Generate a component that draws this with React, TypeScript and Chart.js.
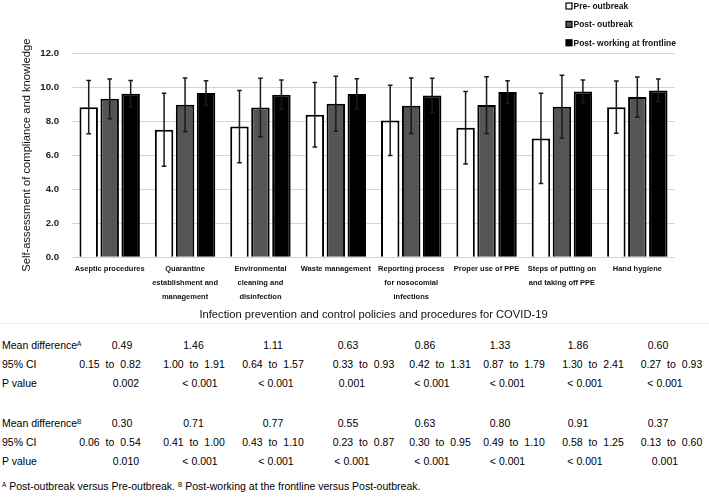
import React, { useEffect, useRef } from "react";
import { Chart, registerables } from "chart.js";

Chart.register(...registerables);

// ---------- data ----------
const categories: string[][] = [
  ["Aseptic procedures"],
  ["Quarantine", "establishment and", "management"],
  ["Environmental", "cleaning and", "disinfection"],
  ["Waste management"],
  ["Reporting process", "for nosocomial", "infections"],
  ["Proper use of PPE"],
  ["Steps of putting on", "and taking off PPE"],
  ["Hand hygiene"],
];
const seriesLabels = ["Pre- outbreak", "Post- outbreak", "Post- working at frontline"];
const preOutbreak = [8.82, 7.49, 7.68, 8.37, 8.04, 7.61, 6.98, 8.82];
const postOutbreak = [9.31, 8.96, 8.8, 9.02, 8.9, 8.94, 8.84, 9.41];
const postFrontline = [9.61, 9.65, 9.55, 9.59, 9.51, 9.71, 9.74, 9.8];
const preErr = [1.57, 2.14, 2.12, 1.89, 2.06, 2.13, 2.65, 1.54];
const postErr = [1.17, 1.57, 1.72, 1.61, 1.63, 1.67, 1.85, 1.18];
const frontErr = [0.78, 0.72, 0.86, 0.9, 1.0, 0.66, 0.67, 0.67];
const yTicks = [0, 2, 4, 6, 8, 10, 12];

const meanDiffA = ["0.49", "1.46", "1.11", "0.63", "0.86", "1.33", "1.86", "0.60"];
const ciA = ["0.15 to 0.82", "1.00 to 1.91", "0.64 to 1.57", "0.33 to 0.93", "0.42 to 1.31", "0.87 to 1.79", "1.30 to 2.41", "0.27 to 0.93"];
const pA = ["0.002", "< 0.001", "< 0.001", "0.001", "< 0.001", "< 0.001", "< 0.001", "< 0.001"];
const meanDiffB = ["0.30", "0.71", "0.77", "0.55", "0.63", "0.80", "0.91", "0.37"];
const ciB = ["0.06 to 0.54", "0.41 to 1.00", "0.43 to 1.10", "0.23 to 0.87", "0.30 to 0.95", "0.49 to 1.10", "0.58 to 1.25", "0.13 to 0.60"];
const pB = ["0.010", "< 0.001", "< 0.001", "< 0.001", "< 0.001", "< 0.001", "< 0.001", "0.001"];

// ---------- layout ----------
const FONT = "'Liberation Sans', Arial, Helvetica, sans-serif";
const meanX = [122, 193.5, 273, 348, 425, 500, 578, 658];
const ciX = [110, 194, 273, 363.5, 440, 514, 593, 671.5];
const pX = [126, 200, 276, 352, 432, 507.5, 585, 665];

const errorBarPlugin = {
  id: "errorBars",
  afterDatasetsDraw(chart: any) {
    const errs = [preErr, postErr, frontErr];
    const ctx = chart.ctx;
    const ys = chart.scales.y;
    ctx.save();
    ctx.strokeStyle = "#1a1a1a";
    ctx.lineWidth = 1.5;
    chart.data.datasets.forEach((ds: any, i: number) => {
      const meta = chart.getDatasetMeta(i);
      meta.data.forEach((bar: any, j: number) => {
        const v = ds.data[j];
        const e = errs[i][j];
        const x = bar.x;
        const yt = ys.getPixelForValue(v + e);
        const yb = ys.getPixelForValue(v - e);
        ctx.beginPath();
        ctx.moveTo(x, yt);
        ctx.lineTo(x, yb);
        ctx.moveTo(x - 2.3, yt);
        ctx.lineTo(x + 2.3, yt);
        ctx.moveTo(x - 2.3, yb);
        ctx.lineTo(x + 2.3, yb);
        ctx.stroke();
      });
    });
    ctx.restore();
  },
};

const legendPlugin = {
  id: "customLegend",
  afterDraw(chart: any) {
    const ctx = chart.ctx;
    ctx.save();
    ctx.font = `bold 8.5px ${FONT}`;
    ctx.textBaseline = "middle";
    ctx.textAlign = "left";
    chart.data.datasets.forEach((ds: any, i: number) => {
      const y = 6 + i * 18.4;
      ctx.fillStyle = ds.backgroundColor;
      ctx.fillRect(566, y - 3, 6, 6);
      ctx.strokeStyle = "#000";
      ctx.lineWidth = 1.2;
      ctx.strokeRect(566, y - 3, 6, 6);
      ctx.fillStyle = "#111";
      ctx.fillText(ds.label, 573.5, y + 0.5);
    });
    ctx.restore();
  },
};

function ChartBox() {
  const ref = useRef<HTMLCanvasElement | null>(null);
  useEffect(() => {
    document.body.style.margin = "0";
    const chart = new Chart(ref.current as HTMLCanvasElement, {
      type: "bar",
      data: {
        labels: categories,
        datasets: [
          { label: seriesLabels[0], data: preOutbreak, backgroundColor: "#ffffff", borderColor: "#000", borderWidth: 2 },
          { label: seriesLabels[1], data: postOutbreak, backgroundColor: "#555555", borderColor: "#000", borderWidth: 2 },
          { label: seriesLabels[2], data: postFrontline, backgroundColor: "#000000", borderColor: "#000", borderWidth: 2 },
        ],
      },
      options: {
        responsive: false,
        animation: false,
        devicePixelRatio: 1,
        layout: { padding: { top: 53, right: 34, left: 0, bottom: 0 } },
        datasets: { bar: { categoryPercentage: 0.835, barPercentage: 0.88 } },
        plugins: { legend: { display: false }, tooltip: { enabled: false } },
        scales: {
          x: {
            grid: { display: false, drawTicks: false },
            border: { display: false },
            ticks: {
              color: "#111",
              font: { family: FONT, size: 7.5, weight: "bold", lineHeight: 14 / 7.5 },
              padding: 5,
              maxRotation: 0,
              autoSkip: false,
            },
            title: {
              display: true,
              text: "Infection prevention and control policies and procedures for COVID-19",
              color: "#111",
              font: { family: FONT, size: 11.2 },
              padding: { top: 0, bottom: 2.3 },
            },
            afterFit(scale: any) {
              scale.height = 66.7;
            },
          },
          y: {
            min: 0,
            max: 12,
            afterBuildTicks(scale: any) {
              scale.ticks = yTicks.map((v) => ({ value: v }));
            },
            grid: { color: "#d4d4d4", lineWidth: 1, drawTicks: false },
            border: { display: false },
            ticks: {
              color: "#222",
              font: { family: FONT, size: 9.6, weight: "bold" },
              padding: 13,
              callback: (v: any) => Number(v).toFixed(1),
            },
            title: {
              display: true,
              text: "Self-assessment of compliance and knowledge",
              color: "#111",
              font: { family: FONT, size: 11.2 },
              padding: { top: 20, bottom: 0 },
            },
            afterFit(scale: any) {
              scale.width = 72;
            },
          },
        },
      },
      plugins: [errorBarPlugin, legendPlugin],
    } as any);
    return () => chart.destroy();
  }, []);
  return <canvas ref={ref} width={709} height={324} style={{ display: "block" }} />;
}

const txt: React.CSSProperties = {
  position: "absolute",
  fontFamily: FONT,
  fontSize: 10.5,
  lineHeight: "14px",
  color: "#000",
  whiteSpace: "nowrap",
};

const supStyle: React.CSSProperties = { fontSize: 6.5, verticalAlign: "3px", lineHeight: 0 };

function Row({ y, label, sup, values, xs, spacing }: { y: number; label: string; sup?: string; values: string[]; xs: number[]; spacing?: number }) {
  return (
    <>
      <div style={{ ...txt, left: 2, top: y - 7 }}>
        {label}
        {sup ? <sup style={supStyle}>{sup}</sup> : null}
      </div>
      {values.map((v, i) => (
        <div key={i} style={{ ...txt, left: xs[i], top: y - 7, transform: "translateX(-50%)", wordSpacing: `${spacing ?? 0}px` }}>
          {v}
        </div>
      ))}
    </>
  );
}

export default function App() {
  return (
    <div style={{ position: "relative", width: 709, height: 498, background: "#fff", overflow: "hidden" }}>
      <ChartBox />
      <div style={{ position: "absolute", left: 0, top: 323, width: 709, height: 1, background: "#ececec" }} />
      <Row y={345} label="Mean difference" sup="A" values={meanDiffA} xs={meanX} />
      <Row y={364} label="95% CI" values={ciA} xs={ciX} spacing={3} />
      <Row y={383} label="P value" values={pA} xs={pX} />
      <Row y={423} label="Mean difference" sup="B" values={meanDiffB} xs={meanX} />
      <Row y={442} label="95% CI" values={ciB} xs={ciX} spacing={3} />
      <Row y={461} label="P value" values={pB} xs={pX} />
      <div style={{ ...txt, left: 2, top: 486 - 7 }}>
        <sup style={supStyle}>A</sup> Post-outbreak versus Pre-outbreak.{" "}
        <sup style={supStyle}>B</sup> Post-working at the frontline versus Post-outbreak.
      </div>
    </div>
  );
}
